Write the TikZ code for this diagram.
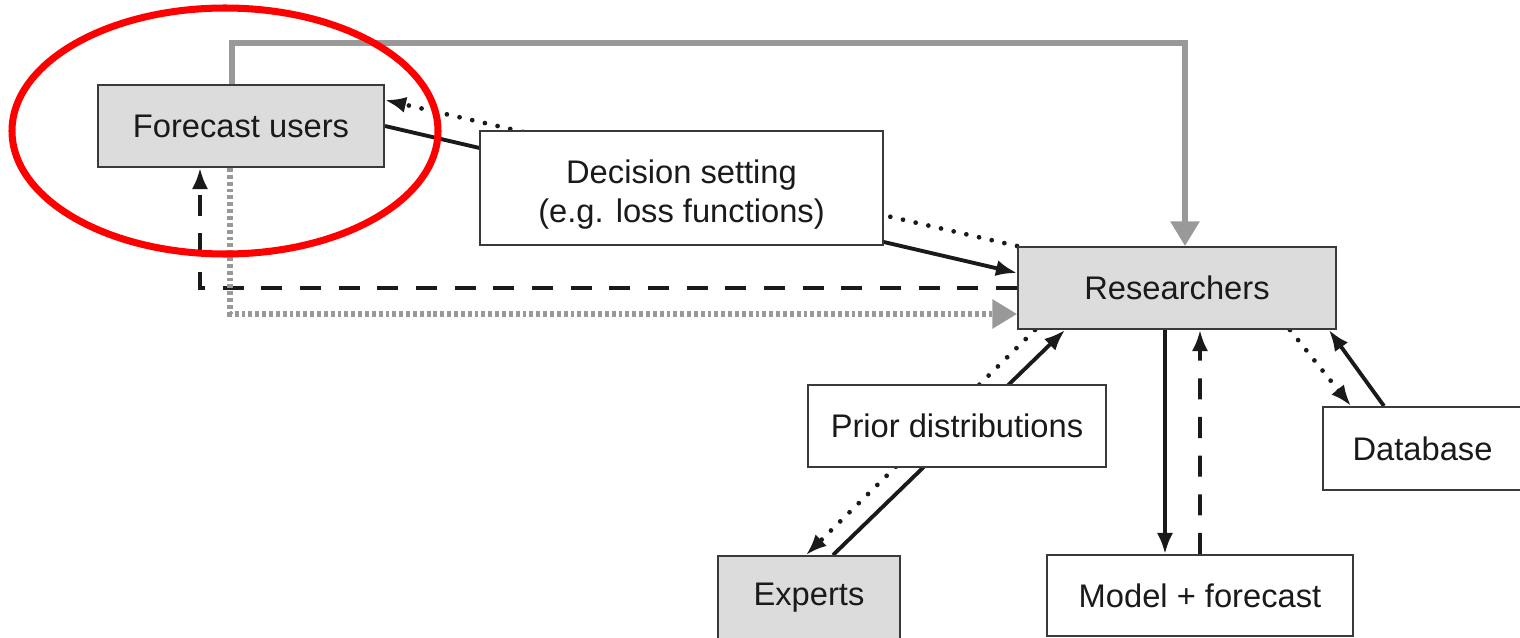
\documentclass[tikz,border=0pt]{standalone}
\usepackage{fontspec}
\setmainfont{Liberation Sans}
\usepackage{xcolor}
\usepackage{tikz}
\usetikzlibrary{arrows.meta,calc,positioning}
\definecolor{Ink}{HTML}{1A1A1A}
\definecolor{Edge}{HTML}{3A3A3A}
\definecolor{BoxFill}{HTML}{DCDCDC}
\definecolor{Grey}{HTML}{999999}
\definecolor{Ring}{HTML}{FF0000}
\pgfdeclarelayer{background}
\pgfsetlayers{background,main}
\tikzset{
  box/.style={draw=Edge,line width=0.55pt,fill=white,text=Ink,align=center,
    inner sep=0pt,font=\fontsize{9.3}{11.1}\selectfont},
  greybox/.style={box,fill=BoxFill},
  link/.style={Ink,line width=1.1pt},
  dotlink/.style={Ink,line width=1.35pt,line cap=round,dash pattern=on 0pt off 3.7pt},
  dashlink/.style={Ink,line width=1.1pt,dash pattern=on 6pt off 5pt},
  greylink/.style={Grey,line width=1.5pt},
  greydots/.style={Grey,line width=1.5pt,dash pattern=on 1.1pt off 0.85pt},
  tip/.style={-{Latex[length=6pt,width=4.6pt]}},
  greytip/.style={-{Triangle[length=7pt,width=8pt]}}
}

\begin{document}
\begin{tikzpicture}[x=1cm,y=1cm,>=Latex]
  \useasboundingbox (0,0) rectangle (15.2,-6.38);
  % boxes
  \node[greybox,minimum width=2.86cm,minimum height=0.82cm] (users) at (2.41,-1.26) {Forecast users};
  \node[box,minimum width=4.03cm,minimum height=1.14cm] (decision) at (6.815,-1.88) {\rule{0pt}{3.6mm}Decision setting\\(e.g. loss functions)};
  \node[greybox,minimum width=3.18cm,minimum height=0.82cm] (researchers) at (11.77,-2.88) {Researchers};
  \node[box,minimum width=2.98cm,minimum height=0.82cm] (priors) at (9.57,-4.26) {Prior distributions};
  \node[box,minimum width=1.99cm,minimum height=0.83cm] (database) at (14.225,-4.485) {Database};
  \node[greybox,minimum width=1.82cm,minimum height=0.84cm] (experts) at (8.09,-5.98) {Experts};
  \node[box,minimum width=3.06cm,minimum height=0.81cm] (model) at (12.0,-5.955) {Model + forecast};
  \coordinate (ceiling) at (7.0,-0.43);

  \begin{pgfonlayer}{background}
    \draw[greylink,greytip] ([xshift=-0.09cm]users.north) |- (ceiling) -| ([xshift=0.08cm]researchers.north);
    \draw[link,tip] (users.east) -- ([yshift=0.15cm]researchers.west);
    \draw[dotlink,tip] (researchers.north west) -- ([yshift=0.26cm]users.east);
    \draw[dashlink,tip] (researchers.west) -| ([xshift=-0.41cm]users.south);
    \draw[greydots,greytip] ([xshift=-0.11cm]users.south) |- ([yshift=-0.26cm]researchers.west);
    % experts and priors
    \draw[dotlink,tip] ([xshift=-1.42cm]researchers.south) -- ([xshift=-0.03cm]experts.north);
    \draw[link,tip] ([xshift=0.24cm]experts.north) -- ([xshift=-1.12cm]researchers.south);
    % model
    \draw[link,tip] ([xshift=-0.12cm]researchers.south) -- ([xshift=-0.35cm]model.north);
    \draw[dashlink,tip] (model.north) -- ([xshift=0.23cm]researchers.south);
    % database
    \draw[dotlink,tip] ([xshift=1.13cm]researchers.south) -- ([xshift=-0.715cm]database.north);
    \draw[link,tip] ([xshift=-0.385cm]database.north) -- ([xshift=-0.08cm]researchers.south east);
  \end{pgfonlayer}

  \draw[Ring,line width=2pt] (2.25,-1.31) ellipse [x radius=2.13,y radius=1.23];
\end{tikzpicture}
\end{document}
